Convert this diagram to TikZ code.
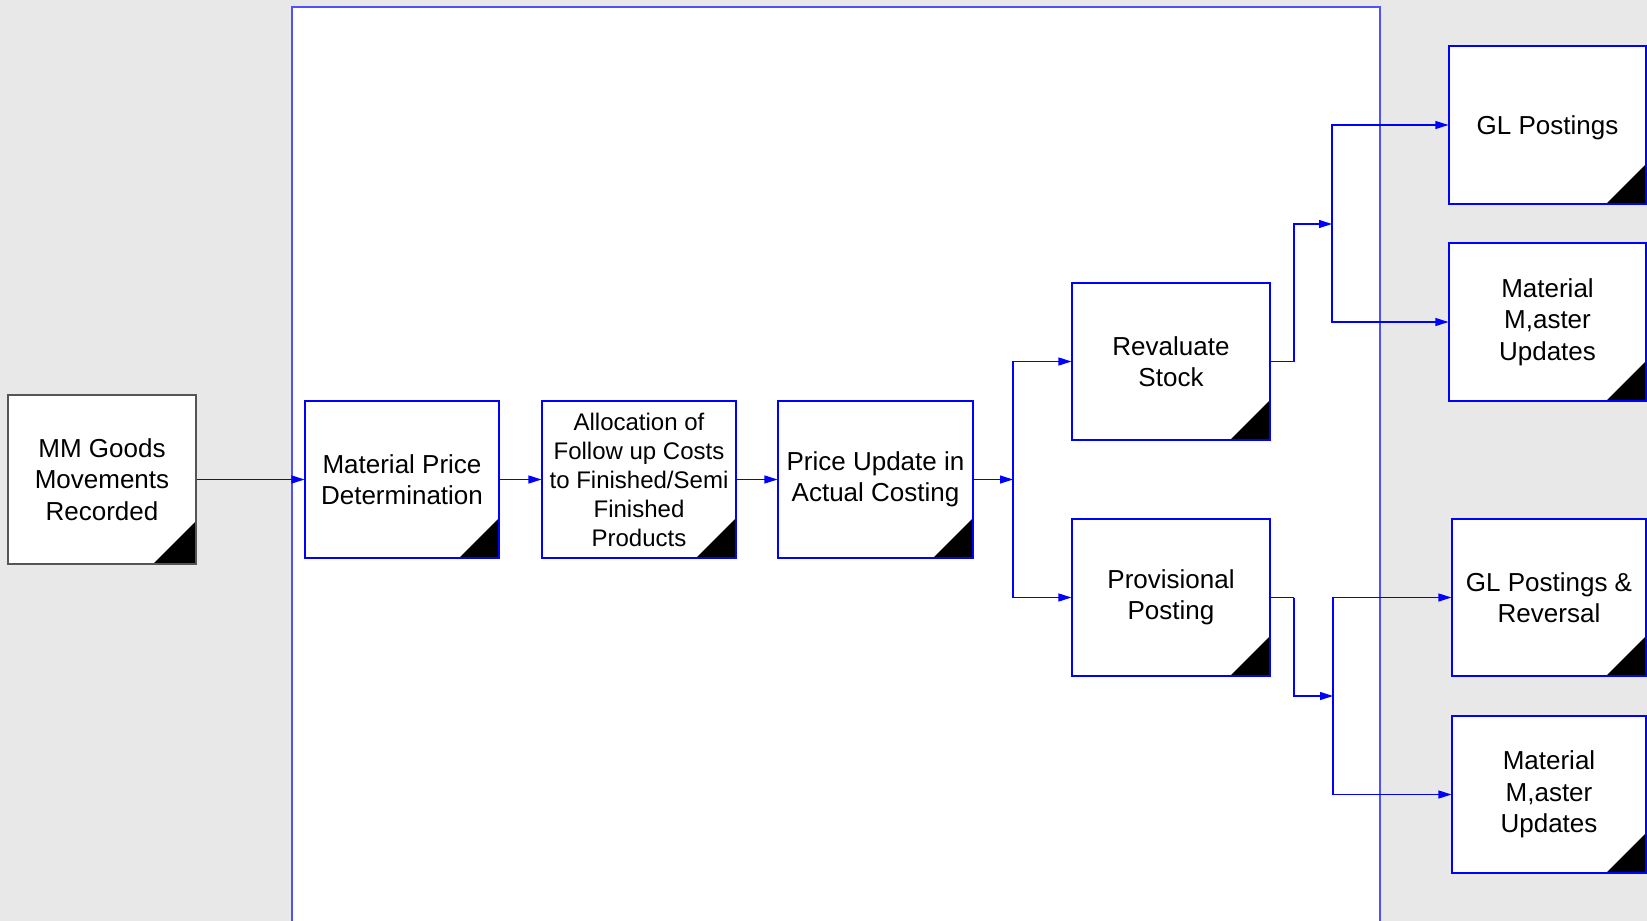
\documentclass[tikz,border=0pt]{standalone}
\usepackage{fontspec}
\setmainfont{Liberation Sans}
\usetikzlibrary{arrows.meta}
\definecolor{bg}{RGB}{232,232,232}
\definecolor{flow}{RGB}{0,0,255}
\definecolor{lane}{RGB}{80,80,255}
\definecolor{edge}{RGB}{85,85,85}
\begin{document}
\begin{tikzpicture}[x=1pt,y=-1pt,
  corner/.style={path picture={%
    \fill[black] ([xshift=-#1]path picture bounding box.south east)
      -- (path picture bounding box.south east)
      -- ([yshift=#1]path picture bounding box.south east) -- cycle;}},
  stepbox/.style={draw=flow, line width=1.1pt, fill=white, inner sep=0pt,
    align=center, font=\fontsize{26}{31.5}\selectfont, corner=40pt},
  sourcebox/.style={stepbox, draw=edge, corner=43pt},
  arr/.style={draw=flow, line width=1.1pt, -{Triangle[length=13pt,width=8pt]}},
  link/.style={draw=flow, line width=1.1pt}]

% canvas and process lane
\fill[bg] (0,0) rectangle (1647,921);
\useasboundingbox (0,0) rectangle (1647,921);
\draw[lane, line width=1.2pt, fill=white] (292,930) -- (292,7) -- (1380,7) -- (1380,930);

% source event
\node[sourcebox, minimum width=188pt, minimum height=169pt] (mm) at (102,479.5)
  {MM Goods\\Movements\\Recorded};

% main chain
\node[stepbox, minimum width=194pt, minimum height=157pt] (mp) at (402,479.5)
  {Material Price\\Determination};
\node[stepbox, minimum width=194pt, minimum height=157pt,
  font=\fontsize{24}{29}\selectfont] (alloc) at (639,479.5)
  {Allocation of\\Follow up Costs\\to Finished/Semi\\Finished\\Products};
\node[stepbox, minimum width=195pt, minimum height=157pt] (pu) at (875.5,479.5)
  {Price Update in\\Actual Costing};

% branches
\node[stepbox, minimum width=198pt, minimum height=157pt] (rev) at (1171,361.5)
  {Revaluate\\Stock};
\node[stepbox, minimum width=198pt, minimum height=157pt] (prov) at (1171,597.5)
  {Provisional\\Posting};

% results
\node[stepbox, minimum width=197pt, minimum height=158pt] (gl1) at (1547.5,125)
  {\raisebox{-3pt}[\height][\depth]{GL Postings}};
\node[stepbox, minimum width=197pt, minimum height=158pt] (mm1) at (1547.5,322)
  {Material\\M,aster\\Updates};
\node[stepbox, minimum width=194pt, minimum height=157pt] (gl2) at (1549,597.5)
  {GL Postings \&\\Reversal};
\node[stepbox, minimum width=194pt, minimum height=157pt] (mm2) at (1549,794.5)
  {Material\\M,aster\\Updates};

% junction points
\coordinate (j1) at (1013,479.5);
\coordinate (j2) at (1332,224);
\coordinate (j3) at (1333,696);
\coordinate (k2) at (1294,361.5);
\coordinate (k3) at (1294,597.5);

% connectors
\draw[arr] (mm.east) -- (mp.west);
\draw[arr] (mp.east) -- (alloc.west);
\draw[arr] (alloc.east) -- (pu.west);
\draw[arr] (pu.east) -- (j1);
\draw[arr] (j1) |- (rev.west);
\draw[arr] (j1) |- (prov.west);

\draw[link] (rev.east) -- (k2);
\draw[arr] (k2) |- (j2);
\draw[arr] (j2) |- (gl1.west);
\draw[arr] (j2) |- (mm1.west);

\draw[link] (prov.east) -- (k3);
\draw[arr] (k3) |- (j3);
\draw[arr] (j3) |- (gl2.west);
\draw[arr] (j3) |- (mm2.west);
\end{tikzpicture}
\end{document}
